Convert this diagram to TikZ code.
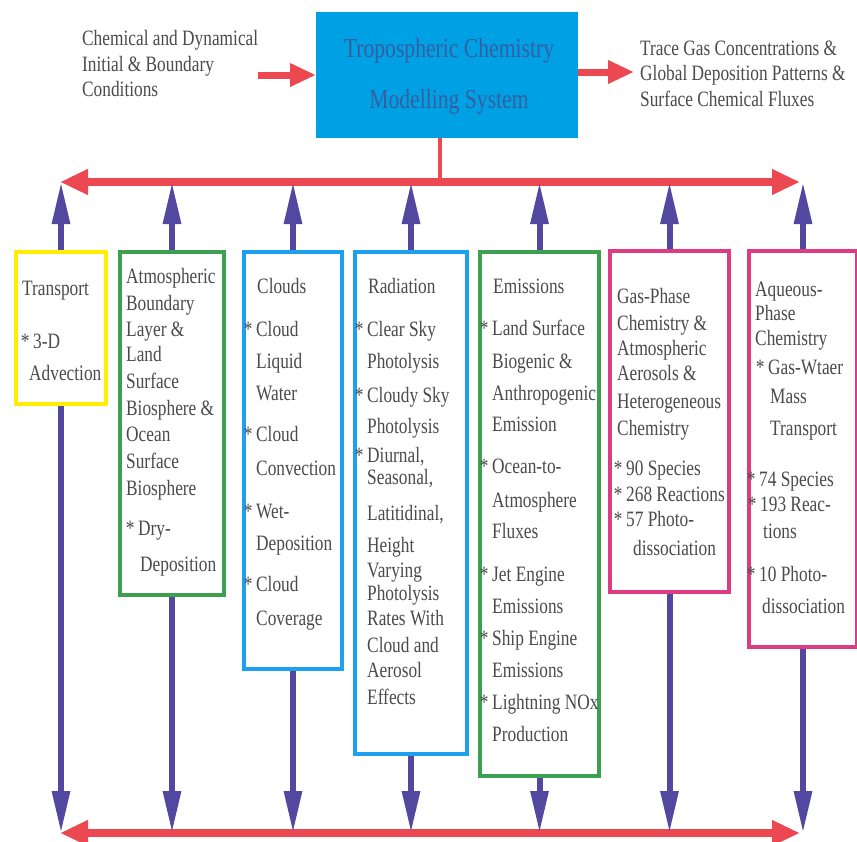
\documentclass[tikz,border=0pt]{standalone}
\usepackage{fontspec}
\setmainfont{Liberation Serif}[FakeStretch=0.79]
\usetikzlibrary{arrows.meta,calc}
\definecolor{redarr}{RGB}{236,72,82}
\definecolor{bluearr}{RGB}{82,72,160}
\definecolor{topfill}{RGB}{0,160,228}
\definecolor{titletxt}{RGB}{55,95,160}
\definecolor{txt}{RGB}{75,75,75}
\definecolor{cyel}{RGB}{255,238,0}
\definecolor{cgrn}{RGB}{60,160,80}
\definecolor{cblu}{RGB}{30,160,240}
\definecolor{cmag}{RGB}{222,60,130}
\newcommand\boxlines[2]{\foreach \xx/\yy/\lt [count=\k] in {#2} {\node[ln] (#1-\k) at (\xx,\yy+8) {\lt};}}
\begin{document}
\begin{tikzpicture}[x=1bp,y=-1bp,
  panel/.style={draw=#1,line width=4bp,inner sep=0pt,anchor=north west,fill=white},
  ln/.style={anchor=base west,inner sep=0pt,text=txt,font=\fontsize{22}{26}\selectfont},
  ttl/.style={anchor=base,inner sep=0pt,text=titletxt,font=\fontsize{27.5}{32}\selectfont},
  redbus/.style={draw=redarr,line width=8bp,{Triangle[length=28bp,width=24bp]}-{Triangle[length=28bp,width=24bp]}},
  redin/.style={draw=redarr,line width=7bp,-{Triangle[length=26bp,width=22bp]}},
  bluearrow/.style={draw=bluearr,line width=6bp,-{Triangle[length=42bp,width=17bp]}}
]
\useasboundingbox (0,0) rectangle (857,842);
\fill[white] (0,0) rectangle (857,842);

% title box
\node[fill=topfill,inner sep=0pt,anchor=north west,minimum width=262bp,minimum height=126bp] (title) at (316,12) {};
\node[ttl] (t1) at (449,57) {Tropospheric Chemistry};
\node[ttl] (t2) at (449,108) {Modelling System};

% side texts
\boxlines{inp}{82/37/Chemical and Dynamical, 82/63/{Initial \& Boundary}, 82/88/Conditions}
\boxlines{out}{640/47/{Trace Gas Concentrations \&}, 640/72/{Global Deposition Patterns \&}, 640/98/Surface Chemical Fluxes}

\coordinate (inS) at (258,75);
\coordinate (outE) at (634,72);
\draw[redin] (inS) -- (title.west |- inS);
\draw[redin] (title.east |- outE) -- (outE);

% buses
\coordinate (rtL) at (60,182);
\coordinate (rtR) at (800,182);
\coordinate (rbL) at (60,833);
\coordinate (rbR) at (800,833);
\draw[draw=redarr,line width=4bp] ([xshift=-7bp]title.south) -- ([xshift=-7bp]title.south |- rtL);
\draw[redbus] (rtL) -- (rtR);
\draw[redbus] (rbL) -- (rbR);

% panels
\node[panel=cyel,minimum width=90bp,minimum height=152bp] (tr) at (14,250) {};
\node[panel=cgrn,minimum width=104bp,minimum height=343bp] (ab) at (118,250) {};
\node[panel=cblu,minimum width=98bp,minimum height=417bp] (cl) at (242,250) {};
\node[panel=cblu,minimum width=112bp,minimum height=502bp] (ra) at (353,250) {};
\node[panel=cgrn,minimum width=119bp,minimum height=524bp] (em) at (478,250) {};
\node[panel=cmag,minimum width=119bp,minimum height=341bp] (gp) at (608,249) {};
\node[panel=cmag,minimum width=108bp,minimum height=396bp] (aq) at (747,249) {};

\foreach \b in {tr,ab,cl,ra,em,gp,aq}{
  \draw[bluearrow] (\b.north) -- (\b.north |- rtL);
  \draw[bluearrow] (\b.south) -- (\b.south |- rbL);
}

% panel texts
\boxlines{trt}{22/287/Transport, 33/340/{\llap{*\,}3-D}, 29/372/Advection}
\boxlines{abt}{126/275/Atmospheric, 126/302/Boundary, 126/328/{Layer \&}, 126/353/Land, 126/380/Surface, 126/407/{Biosphere \&}, 126/433/Ocean, 126/460/Surface, 126/487/Biosphere, 138/527/{\llap{*\,}Dry-}, 140/563/Deposition}
\boxlines{clt}{257/285/Clouds, 256/328/{\llap{*\,}Cloud}, 256/360/Liquid, 256/392/Water, 256/433/{\llap{*\,}Cloud}, 256/467/Convection, 256/510/{\llap{*\,}Wet-}, 256/542/Deposition, 256/583/{\llap{*\,}Cloud}, 256/617/Coverage}
\boxlines{rat}{368/285/Radiation, 367/328/{\llap{*\,}Clear Sky}, 367/360/Photolysis, 367/394/{\llap{*\,}Cloudy Sky}, 367/425/Photolysis, 367/454/{\llap{*\,}Diurnal,}, 367/476/{Seasonal,}, 367/512/{Latitidinal,}, 367/544/Height, 367/569/Varying, 367/592/Photolysis, 367/617/{Rates With}, 367/644/{Cloud and}, 367/669/Aerosol, 367/696/Effects}
\boxlines{emt}{493/285/Emissions, 492/327/{\llap{*\,}Land Surface}, 492/360/{Biogenic \&}, 492/392/Anthropogenic, 492/423/Emission, 492/465/{\llap{*\,}Ocean-to-}, 492/499/Atmosphere, 492/530/Fluxes, 492/573/{\llap{*\,}Jet Engine}, 492/605/Emissions, 492/637/{\llap{*\,}Ship Engine}, 492/669/Emissions, 492/701/{\llap{*\,}Lightning NOx}, 492/733/Production}
\boxlines{gpt}{617/295/Gas-Phase, 617/322/{Chemistry \&}, 617/347/Atmospheric, 617/372/{Aerosols \&}, 617/400/Heterogeneous, 617/427/Chemistry, 626/467/{\llap{*\,}90 Species}, 626/493/{\llap{*\,}268 Reactions}, 626/518/{\llap{*\,}57 Photo-}, 633/547/dissociation}
\boxlines{aqt}{755/288/Aqueous-, 755/312/Phase, 755/337/Chemistry, 768/366/{\llap{*\,}Gas-Wtaer}, 770/395/Mass, 770/427/Transport, 759/478/{\llap{*\,}74 Species}, 760/503/{\llap{*\,}193 Reac-}, 763/530/tions, 759/573/{\llap{*\,}10 Photo-}, 762/605/dissociation}
\end{tikzpicture}
\end{document}
